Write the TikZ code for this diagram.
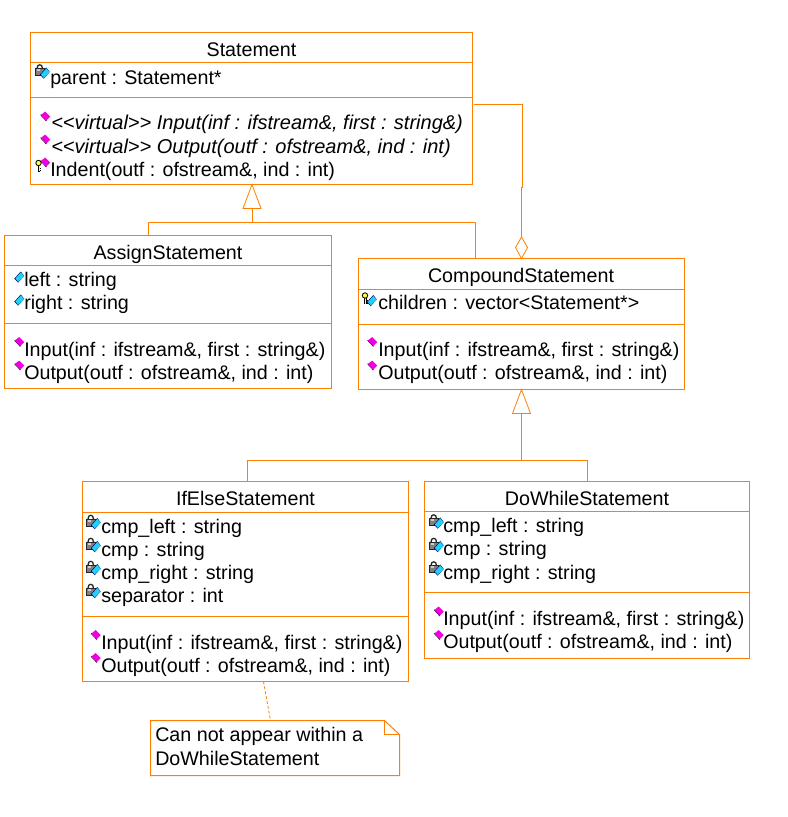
\documentclass[tikz,border=0pt]{standalone}
\usepackage{fontspec}
\usetikzlibrary{calc}
\setmainfont{Liberation Sans}
\definecolor{umlo}{HTML}{FF8000}
\definecolor{mag}{HTML}{F000E0}
\definecolor{cy}{HTML}{20D0F8}
\definecolor{dkb}{HTML}{000060}
\definecolor{keyy}{HTML}{FFFF40}
\tikzset{
  x=0.75pt,y=-0.75pt,
  line/.style={draw=umlo,line width=0.75pt},
  classbox/.style={line,fill=white,rectangle,inner sep=0pt,outer sep=0pt,anchor=north west},
  notebox/.style={rectangle,inner sep=0pt,outer sep=0pt,anchor=north west},
  txt/.style={anchor=base west,inner sep=0pt,yshift=-0.5pt,font=\fontsize{14.76pt}{17pt}\selectfont},
  ital/.style={txt,font=\fontsize{15pt}{17pt}\selectfont\itshape},
  ttl/.style={anchor=base,inner sep=0pt,yshift=-0.75pt,font=\fontsize{14.76pt}{17pt}\selectfont},
  tri/.style={line,fill=white,line join=miter,line width=0.6pt},
}
% operation marker centred at (#1,#2)
\newcommand{\opm}[2]{%
  \fill[black] (#1-5.2,#2-1) -- (#1+0.7,#2+5.3) -- (#1+1.2,#2+4.7) -- (#1-4.7,#2-1.5) -- cycle;
  \fill[mag] (#1-4.7,#2-1) -- (#1-0.3,#2-4.5) -- (#1+4.7,#2+0.7) -- (#1+0.7,#2+4.7) -- cycle;}
% attribute marker centred at (#1,#2)
\newcommand{\atm}[2]{%
  \fill[dkb] (#1-5.2,#2+1.7) -- (#1+1.3,#2-5.5) -- (#1+4.7,#2-1) -- (#1-1.3,#2+5.6) -- cycle;
  \fill[cy] (#1-4.2,#2+1.5) -- (#1+1.3,#2-4.6) -- (#1+4.7,#2-0.7) -- (#1-1.3,#2+4.8) -- cycle;}
% padlock beside an attribute marker centred at (#1,#2)
\newcommand{\lockm}[2]{%
  \draw[black!85,line width=1pt] (#1-8,#2-4.5) .. controls (#1-8,#2-9.5) and (#1-2.5,#2-9.5) .. (#1-2.5,#2-4.5);
  \fill[black!50,draw=black!85,line width=0.6pt] (#1-9.2,#2-4.5) rectangle (#1-1,#2+2.5);
  \fill[black!20] (#1-8.4,#2-3.7) rectangle (#1-5,#2-2);}
% key beside a marker centred at (#1,#2)
\newcommand{\keym}[2]{%
  \draw[black,line width=1.6pt] (#1-6.5,#2+2) -- (#1-6.5,#2+9.5);
  \draw[black,line width=0.7pt] (#1-6.5,#2+6) -- (#1-4.5,#2+6) (#1-6.5,#2+8.5) -- (#1-4.5,#2+8.5);
  \draw[keyy,line width=0.7pt] (#1-6.5,#2+2) -- (#1-6.5,#2+9);
  \fill[keyy,draw=black,line width=0.6pt] (#1-7,#2+1) circle[radius=2.7];}
\begin{document}
\begin{tikzpicture}
\useasboundingbox (0,0) rectangle (788,817);
\fill[white] (0,0) rectangle (788,817);

% boxes
\node[classbox,minimum width=442*0.75pt,minimum height=152*0.75pt] (stmt) at (30.5,32.5) {};
\node[classbox,minimum width=327*0.75pt,minimum height=153*0.75pt] (assign) at (4.5,235.5) {};
\node[classbox,minimum width=326*0.75pt,minimum height=131*0.75pt] (comp) at (358.5,258.5) {};
\node[classbox,minimum width=326*0.75pt,minimum height=200*0.75pt] (ifelse) at (82.5,481.5) {};
\node[classbox,minimum width=325*0.75pt,minimum height=177*0.75pt] (dowhile) at (424.5,481.5) {};
\node[notebox,minimum width=249*0.75pt,minimum height=55*0.75pt] (note) at (150.5,720.5) {};

% aggregation
\coordinate (ag0) at (474,104.5);
\coordinate (ag1) at (522.5,104.5);
\coordinate (ag2) at (522.5,187.5);
\coordinate (ag3) at (521.5,187.5);
\coordinate (ag4) at (521.5,237);
\coordinate (agR) at (527.5,247.5);
\coordinate (agL) at (515.5,247.5);
\draw[line] (ag0) -- (ag1) -- (ag2) -- (ag3) -- (ag4);
\draw[tri] (ag4) -- (agR) -- (comp.north -| ag4) -- (agL) -- cycle;

% generalisation to Statement
\coordinate (g1) at (148.5,222.5);
\coordinate (g2) at (475.5,222.5);
\coordinate (g3) at (252,222.5);
\coordinate (g1b) at (252,208.5);
\draw[line] (assign.north -| g1) -- (g1) -- (g2) -- (comp.north -| g2);
\draw[line] (g3) -- (g1b);
\draw[tri] (stmt.south -| g1b) -- ($(g1b)+(9,0)$) -- ($(g1b)+(-9,0)$) -- cycle;

% generalisation to CompoundStatement
\coordinate (h1) at (247.5,460.5);
\coordinate (h2) at (587.5,460.5);
\coordinate (h3) at (521.5,460.5);
\coordinate (h3b) at (521.5,413.5);
\draw[line] (ifelse.north -| h1) -- (h1) -- (h2) -- (dowhile.north -| h2);
\draw[line] (h3) -- (h3b);
\draw[tri] (comp.south -| h3b) -- ($(h3b)+(9,0)$) -- ($(h3b)+(-9,0)$) -- cycle;

% separators
\coordinate (s1) at (0,62.5);  \coordinate (s2) at (0,97.5);
\coordinate (s3) at (0,289.5); \coordinate (s4) at (0,324.5);
\coordinate (s5) at (0,265.5); \coordinate (s6) at (0,323.5);
\coordinate (s7) at (0,512.5); \coordinate (s8) at (0,616.5);
\coordinate (s9) at (0,511.5); \coordinate (s10) at (0,592.5);
\draw[line] (stmt.west |- s1) -- (stmt.east |- s1) (stmt.west |- s2) -- (stmt.east |- s2);
\draw[line] (comp.west |- s3) -- (comp.east |- s3) (comp.west |- s4) -- (comp.east |- s4);
\draw[line] (assign.west |- s5) -- (assign.east |- s5) (assign.west |- s6) -- (assign.east |- s6);
\draw[line] (ifelse.west |- s7) -- (ifelse.east |- s7) (ifelse.west |- s8) -- (ifelse.east |- s8);
\draw[line] (dowhile.west |- s9) -- (dowhile.east |- s9) (dowhile.west |- s10) -- (dowhile.east |- s10);

% note outline
\coordinate (nf1) at (384.5,720.5);
\coordinate (nf2) at (384.5,734.5);
\coordinate (nf3) at (399.5,734.5);
\draw[line,line join=miter] (note.north west) -- (nf1) -- (nf3) -- (note.south east) -- (note.south west) -- cycle;
\draw[line] (nf1) -- (nf2) -- (nf3);
\coordinate (d1) at (263.5,700);
\coordinate (d2) at (270.5,700);
\draw[line,line width=0.6pt,dash pattern=on 2.2pt off 1.5pt] (ifelse.south -| d1) -- (note.north -| d2);

% titles
\node[ttl] (t1) at (251.5,55.5) {Statement};
\node[ttl] (t2) at (168,258) {AssignStatement};
\node[ttl] (t3) at (521,281) {CompoundStatement};
\node[ttl] (t4) at (245.5,504) {IfElseStatement};
\node[ttl] (t5) at (587,504) {DoWhileStatement};

% Statement
\node[txt] (m1) at (50,83.5) {parent : Statement*};
\node[ital] (m2) at (51,128.5) {<{}<virtual>{}> Input(inf : ifstream\&, first : string\&)};
\node[ital] (m3) at (51,152.5) {<{}<virtual>{}> Output(outf : ofstream\&, ind : int)};
\node[txt] (m4) at (50,176) {Indent(outf : ofstream\&, ind : int)};
\lockm{45}{73}\atm{45}{73}
\opm{45.5}{116}\opm{45.5}{139}\keym{45.5}{162}\opm{45.5}{162}

% Assign
\node[txt] (a1) at (24,285.5) {left : string};
\node[txt] (a2) at (24,308.5) {right : string};
\node[txt] (a3) at (24,355.5) {Input(inf : ifstream\&, first : string\&)};
\node[txt] (a4) at (24,378.5) {Output(outf : ofstream\&, ind : int)};
\atm{19.5}{277}\atm{19.5}{300}\opm{19.5}{341.5}\opm{19.5}{365}

% Compound
\node[txt] (c1) at (378,309) {children : vector<Statement*>};
\node[txt] (c2) at (378,355.5) {Input(inf : ifstream\&, first : string\&)};
\node[txt] (c3) at (378,378.5) {Output(outf : ofstream\&, ind : int)};
\keym{372}{294.5}\atm{372}{300.5}\opm{372.5}{341.5}\opm{372.5}{365}

% IfElse
\node[txt] (i1) at (101,532.5) {cmp\_left : string};
\node[txt] (i2) at (101,555.5) {cmp : string};
\node[txt] (i3) at (101,578.5) {cmp\_right : string};
\node[txt] (i4) at (101,601.5) {separator : int};
\node[txt] (i5) at (101,648.5) {Input(inf : ifstream\&, first : string\&)};
\node[txt] (i6) at (101,671.5) {Output(outf : ofstream\&, ind : int)};
\lockm{96}{523.5}\atm{96}{523.5}\lockm{96}{546.5}\atm{96}{546.5}\lockm{96}{569.5}\atm{96}{569.5}\lockm{96}{592.5}\atm{96}{592.5}
\opm{96}{634.5}\opm{96}{657.5}

% DoWhile
\node[txt] (d3a) at (443,531.5) {cmp\_left : string};
\node[txt] (d3b) at (443,554.5) {cmp : string};
\node[txt] (d3c) at (443,578.5) {cmp\_right : string};
\node[txt] (d3d) at (443,624.5) {Input(inf : ifstream\&, first : string\&)};
\node[txt] (d3e) at (443,647.5) {Output(outf : ofstream\&, ind : int)};
\lockm{439}{523}\atm{439}{523}\lockm{439}{546.5}\atm{439}{546.5}\lockm{439}{570}\atm{439}{570}
\opm{439}{611}\opm{439}{634.5}

% note text
\node[txt] (n1) at (155,741) {Can not appear within a};
\node[txt] (n2) at (155,764.5) {DoWhileStatement};
\end{tikzpicture}
\end{document}
